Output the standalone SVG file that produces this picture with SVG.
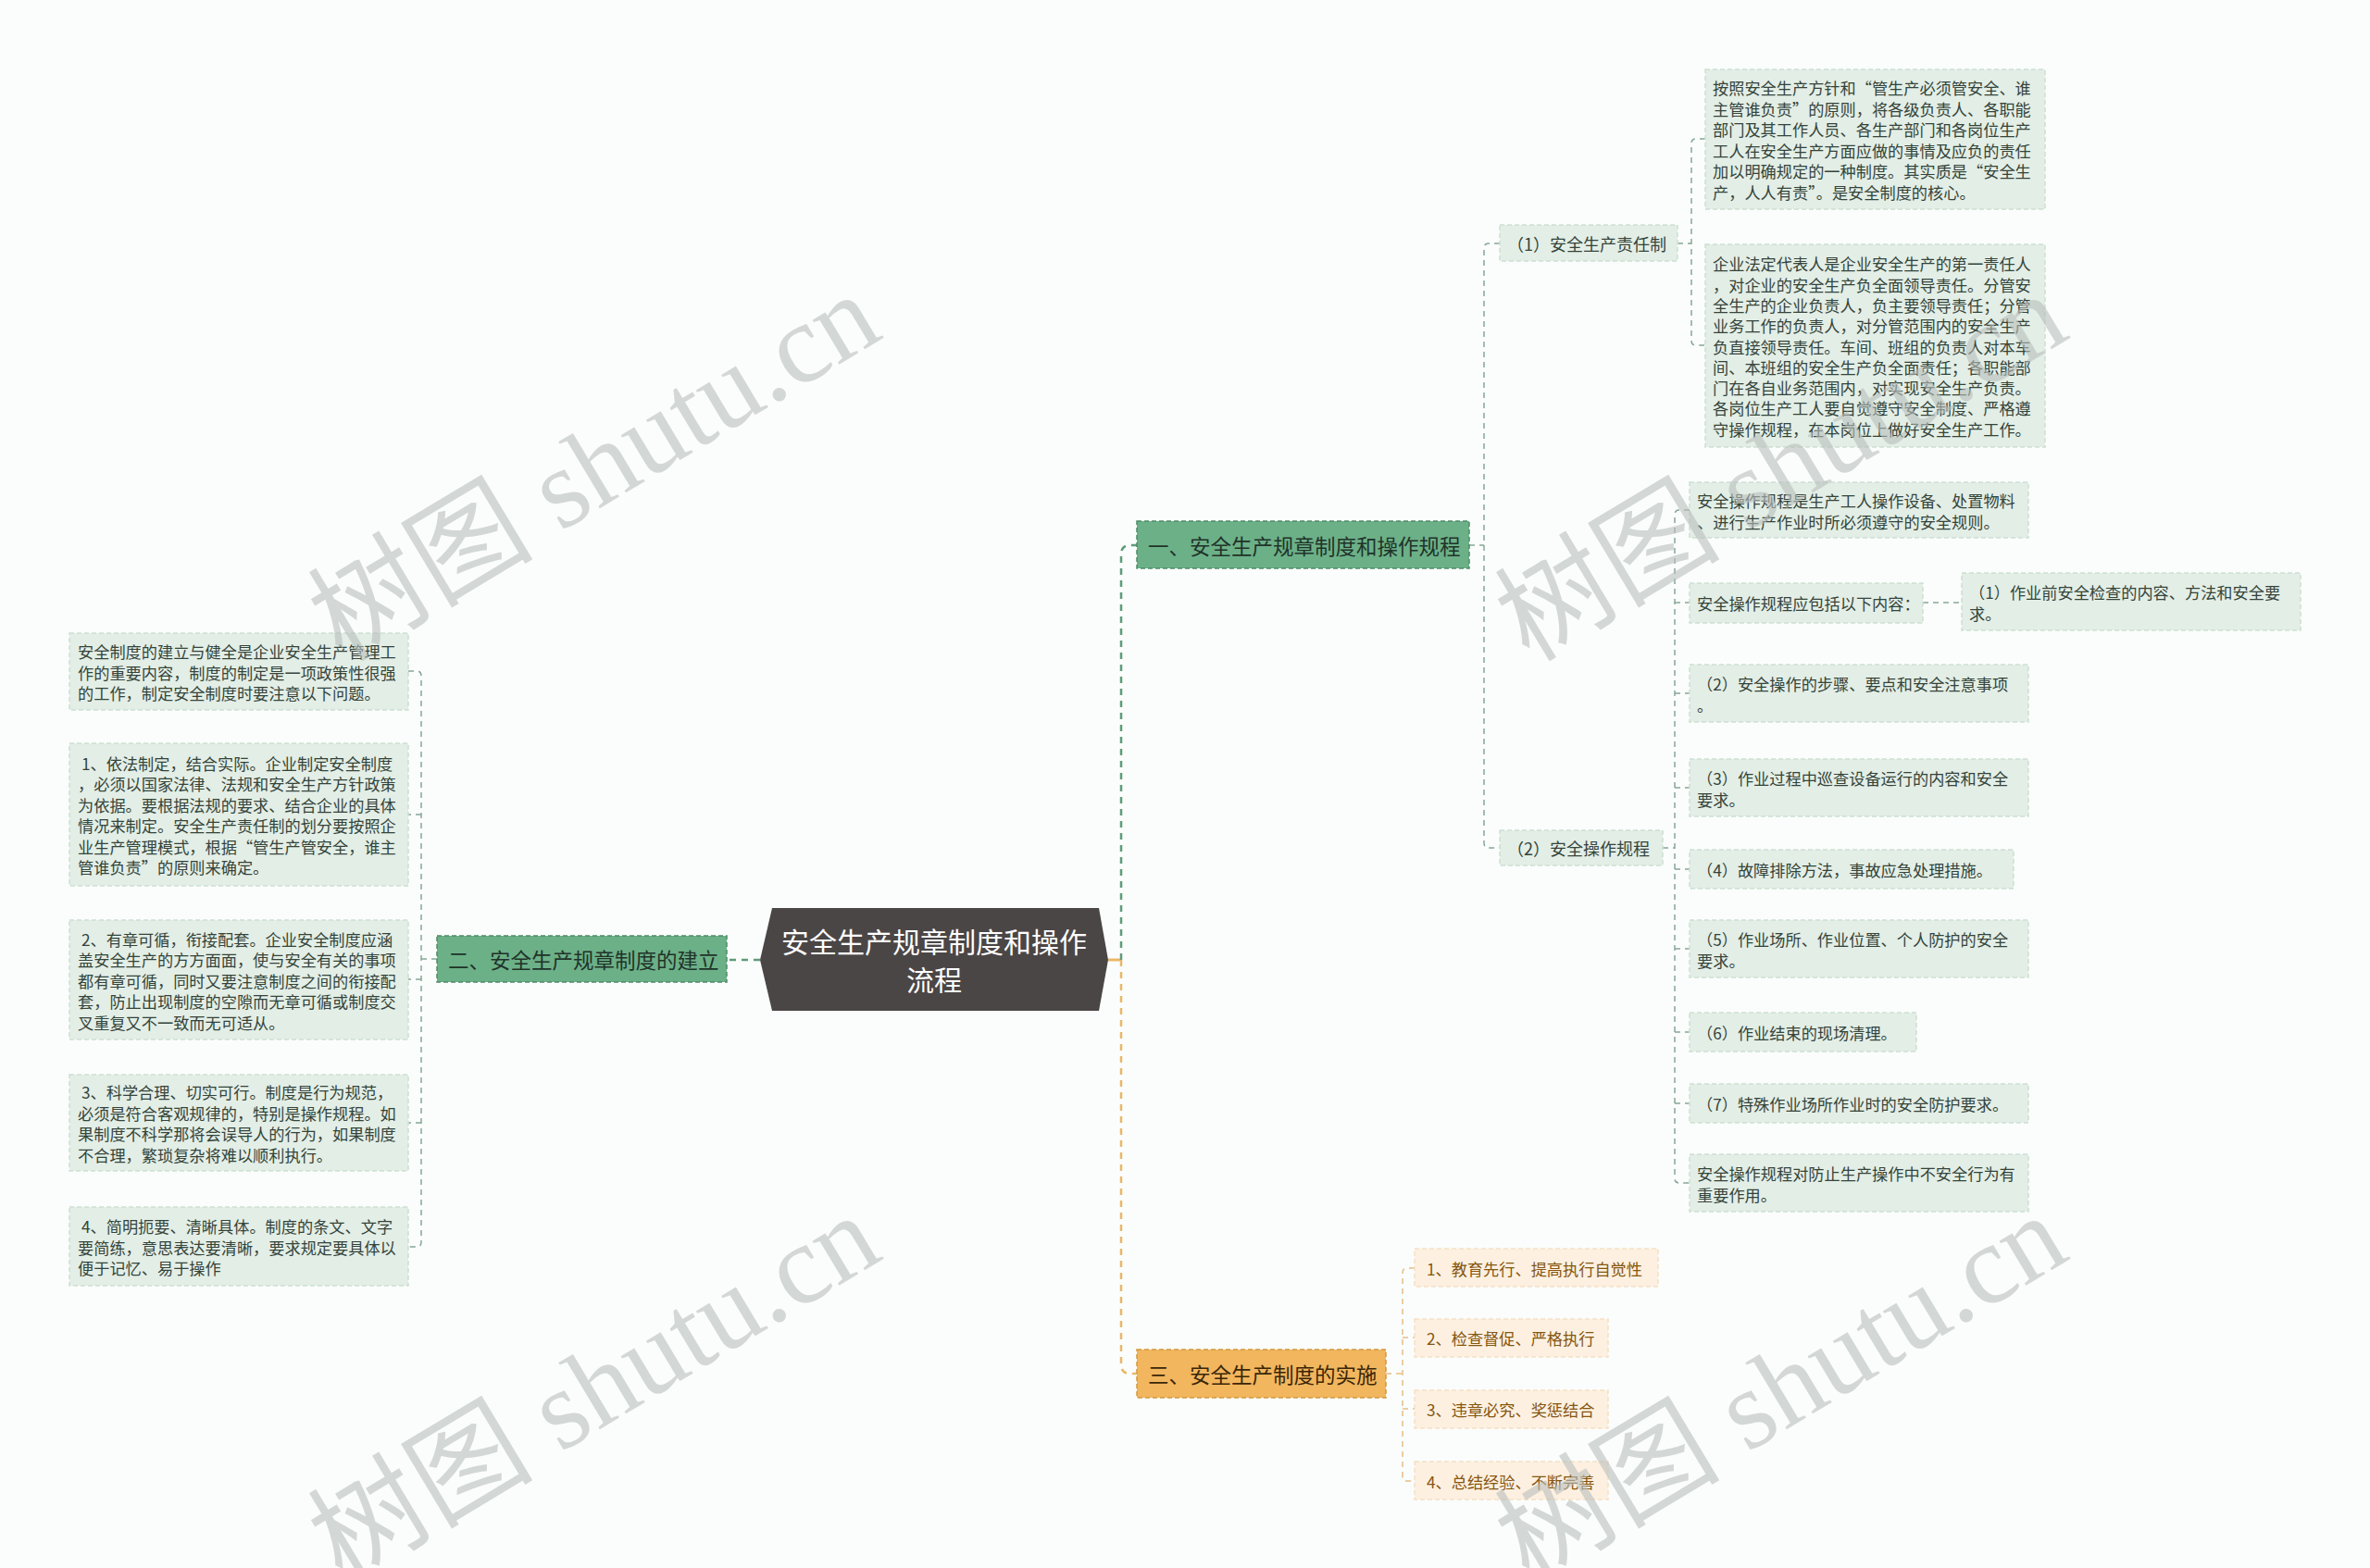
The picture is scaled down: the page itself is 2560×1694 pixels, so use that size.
<svg xmlns="http://www.w3.org/2000/svg" width="2560" height="1694" viewBox="0 0 2560 1694">
<style>
.bg{fill:#fbfdfc}
.leaf{fill:#e3eee6;stroke:#cddfd2;stroke-width:1.5;stroke-dasharray:5 3}
.leafo{fill:#fdf0e1;stroke:#f5dfc4;stroke-width:1.5;stroke-dasharray:5 3}
.brg{fill:#6cb088;stroke:#4d8b67;stroke-width:1.5;stroke-dasharray:5 3}
.bro{fill:#f1b65e;stroke:#d4983c;stroke-width:1.5;stroke-dasharray:5 3}
.ctr{fill:#4b4646}
text{font-family:"Noto Sans CJK SC","Noto Sans",sans-serif;dominant-baseline:central}
.t{font-size:17.2px;fill:#34443a}
.ts{font-size:18px;fill:#34443a}
.to{font-size:17.2px;fill:#85560f}
.tb{font-size:22.5px;fill:#1f3328}
.tbo{font-size:22.5px;fill:#3a2608}
.tc{font-size:30px;fill:#ffffff}
.cg{fill:none;stroke:#5f9c7a;stroke-width:2.5;stroke-dasharray:7 6}
.co{fill:none;stroke:#e8b868;stroke-width:2.5;stroke-dasharray:7 6}
.cl{fill:none;stroke:#86a795;stroke-width:1.5;stroke-dasharray:6 5}
.clo{fill:none;stroke:#e6bd84;stroke-width:1.5;stroke-dasharray:6 5}
.wm{font-family:"Liberation Serif","Noto Sans CJK SC",serif;font-size:122px;fill:#b9bfbc;opacity:0.6;dominant-baseline:auto}
</style>
<rect class="bg" x="0" y="0" width="2560" height="1694"/>

<g id="connectors">
  <path d="M1197,1037 H1211" fill="none" stroke="#e8b868" stroke-width="3"/>
  <path class="cg" d="M1211,1037 V599 Q1211,589 1221,589 H1228"/>
  <path class="co" d="M1211,1037 V1474 Q1211,1484 1221,1484 H1228"/>
  <path class="cg" d="M821,1037 H785" stroke-dasharray="14 5"/>
  <path class="cl" d="M472,1036 H455 M441,725 H450 Q455,725 455,730 V1342 Q455,1347 450,1347 H441 M455,880 H441 M455,1058 H441 M455,1213 H441"/>
  <path class="cl" d="M1587,589 H1603 M1620,263 H1608 Q1603,263 1603,268 V911 Q1603,916 1608,916 H1620"/>
  <path class="cl" d="M1812,263 H1827 M1842,150 H1832 Q1827,150 1827,155 V368 Q1827,373 1832,373 H1842"/>
  <path class="cl" d="M1796,916 H1809 M1825,551 H1814 Q1809,551 1809,556 V1273 Q1809,1278 1814,1278 H1825 M1809,651 H1825 M1809,749 H1825 M1809,851 H1825 M1809,939 H1825 M1809,1025 H1825 M1809,1115 H1825 M1809,1192 H1825"/>
  <path class="cl" d="M2077,651 H2119"/>
  <path class="clo" d="M1497,1484 H1515 M1528,1370 H1520 Q1515,1370 1515,1375 V1595 Q1515,1600 1520,1600 H1528 M1515,1445 H1528 M1515,1522 H1528"/>
</g>

<g id="root">
  <polygon class="ctr" points="821,1037 834,981 1187,981 1197,1037 1187,1092 834,1092"/>
  <text class="tc" x="1009" y="1016" text-anchor="middle">安全生产规章制度和操作</text>
  <text class="tc" x="1009" y="1057" text-anchor="middle">流程</text>
</g>

<g id="branch1">
  <rect class="brg" x="1228" y="563" width="359" height="51"/>
  <text class="tb" x="1240" y="589">一、安全生产规章制度和操作规程</text>
</g>
<g id="branch2">
  <rect class="brg" x="472" y="1011" width="313" height="50"/>
  <text class="tb" x="484" y="1036">二、安全生产规章制度的建立</text>
</g>
<g id="branch3">
  <rect class="bro" x="1228" y="1458" width="269" height="52"/>
  <text class="tbo" x="1240" y="1484">三、安全生产制度的实施</text>
</g>

<g id="sub1">
  <rect class="leaf" x="1620" y="243" width="192" height="39"/>
  <text class="ts" x="1628" y="263">（1）安全生产责任制</text>
</g>
<g id="sub2">
  <rect class="leaf" x="1620" y="897" width="176" height="38"/>
  <text class="ts" x="1628" y="916">（2）安全操作规程</text>
</g>

<g id="rb1">
  <rect class="leaf" x="1842" y="75" width="367" height="151"/>
  <text class="t"><tspan x="1850" y="94">按照安全生产方针和“管生产必须管安全、谁</tspan><tspan x="1850" y="116.6">主管谁负责”的原则，将各级负责人、各职能</tspan><tspan x="1850" y="139.2">部门及其工作人员、各生产部门和各岗位生产</tspan><tspan x="1850" y="161.8">工人在安全生产方面应做的事情及应负的责任</tspan><tspan x="1850" y="184.4">加以明确规定的一种制度。其实质是“安全生</tspan><tspan x="1850" y="207">产，人人有责”。是安全制度的核心。</tspan></text>
</g>
<g id="rb2">
  <rect class="leaf" x="1842" y="264" width="367" height="219"/>
  <text class="t"><tspan x="1850" y="284.3">企业法定代表人是企业安全生产的第一责任人</tspan><tspan x="1850" y="306.6">，对企业的安全生产负全面领导责任。分管安</tspan><tspan x="1850" y="328.9">全生产的企业负责人，负主要领导责任；分管</tspan><tspan x="1850" y="351.2">业务工作的负责人，对分管范围内的安全生产</tspan><tspan x="1850" y="373.5">负直接领导责任。车间、班组的负责人对本车</tspan><tspan x="1850" y="395.8">间、本班组的安全生产负全面责任；各职能部</tspan><tspan x="1850" y="418.1">门在各自业务范围内，对实现安全生产负责。</tspan><tspan x="1850" y="440.4">各岗位生产工人要自觉遵守安全制度、严格遵</tspan><tspan x="1850" y="462.7">守操作规程，在本岗位上做好安全生产工作。</tspan></text>
</g>

<g id="op1">
  <rect class="leaf" x="1825" y="521" width="366" height="60"/>
  <text class="t"><tspan x="1833" y="540">安全操作规程是生产工人操作设备、处置物料</tspan><tspan x="1833" y="562.5">、进行生产作业时所必须遵守的安全规则。</tspan></text>
</g>
<g id="op2">
  <rect class="leaf" x="1825" y="630" width="252" height="43"/>
  <text class="t" x="1833" y="651">安全操作规程应包括以下内容：</text>
</g>
<g id="op2a">
  <rect class="leaf" x="2119" y="619" width="366" height="62"/>
  <text class="t"><tspan x="2127" y="639">（1）作业前安全检查的内容、方法和安全要</tspan><tspan x="2127" y="661.5">求。</tspan></text>
</g>
<g id="op3">
  <rect class="leaf" x="1825" y="718" width="366" height="62"/>
  <text class="t"><tspan x="1833" y="738">（2）安全操作的步骤、要点和安全注意事项</tspan><tspan x="1833" y="760.5">。</tspan></text>
</g>
<g id="op4">
  <rect class="leaf" x="1825" y="820" width="366" height="62"/>
  <text class="t"><tspan x="1833" y="840">（3）作业过程中巡查设备运行的内容和安全</tspan><tspan x="1833" y="862.5">要求。</tspan></text>
</g>
<g id="op5">
  <rect class="leaf" x="1825" y="918" width="350" height="42"/>
  <text class="t" x="1833" y="939">（4）故障排除方法，事故应急处理措施。</text>
</g>
<g id="op6">
  <rect class="leaf" x="1825" y="994" width="366" height="62"/>
  <text class="t"><tspan x="1833" y="1014">（5）作业场所、作业位置、个人防护的安全</tspan><tspan x="1833" y="1036.5">要求。</tspan></text>
</g>
<g id="op7">
  <rect class="leaf" x="1825" y="1094" width="245" height="42"/>
  <text class="t" x="1833" y="1115">（6）作业结束的现场清理。</text>
</g>
<g id="op8">
  <rect class="leaf" x="1825" y="1171" width="366" height="42"/>
  <text class="t" x="1833" y="1192">（7）特殊作业场所作业时的安全防护要求。</text>
</g>
<g id="op9">
  <rect class="leaf" x="1825" y="1247" width="366" height="62"/>
  <text class="t"><tspan x="1833" y="1267">安全操作规程对防止生产操作中不安全行为有</tspan><tspan x="1833" y="1289.5">重要作用。</tspan></text>
</g>

<g id="im1">
  <rect class="leafo" x="1528" y="1349" width="263" height="41"/>
  <text class="to" x="1541" y="1370">1、教育先行、提高执行自觉性</text>
</g>
<g id="im2">
  <rect class="leafo" x="1528" y="1425" width="209" height="41"/>
  <text class="to" x="1541" y="1445">2、检查督促、严格执行</text>
</g>
<g id="im3">
  <rect class="leafo" x="1528" y="1502" width="209" height="41"/>
  <text class="to" x="1541" y="1522">3、违章必究、奖惩结合</text>
</g>
<g id="im4">
  <rect class="leafo" x="1528" y="1579" width="209" height="41"/>
  <text class="to" x="1541" y="1600">4、总结经验、不断完善</text>
</g>

<g id="lb0">
  <rect class="leaf" x="75" y="684" width="366" height="83"/>
  <text class="t"><tspan x="84" y="703">安全制度的建立与健全是企业安全生产管理工</tspan><tspan x="84" y="725.5">作的重要内容，制度的制定是一项政策性很强</tspan><tspan x="84" y="748">的工作，制定安全制度时要注意以下问题。</tspan></text>
</g>
<g id="lb1">
  <rect class="leaf" x="75" y="803" width="366" height="154"/>
  <text class="t"><tspan x="88" y="823.8">1、依法制定，结合实际。企业制定安全制度</tspan><tspan x="84" y="846.3">，必须以国家法律、法规和安全生产方针政策</tspan><tspan x="84" y="868.8">为依据。要根据法规的要求、结合企业的具体</tspan><tspan x="84" y="891.3">情况来制定。安全生产责任制的划分要按照企</tspan><tspan x="84" y="913.8">业生产管理模式，根据“管生产管安全，谁主</tspan><tspan x="84" y="936.3">管谁负责”的原则来确定。</tspan></text>
</g>
<g id="lb2">
  <rect class="leaf" x="75" y="994" width="366" height="129"/>
  <text class="t"><tspan x="88" y="1013.5">2、有章可循，衔接配套。企业安全制度应涵</tspan><tspan x="84" y="1036">盖安全生产的方方面面，使与安全有关的事项</tspan><tspan x="84" y="1058.5">都有章可循，同时又要注意制度之间的衔接配</tspan><tspan x="84" y="1081">套，防止出现制度的空隙而无章可循或制度交</tspan><tspan x="84" y="1103.5">叉重复又不一致而无可适从。</tspan></text>
</g>
<g id="lb3">
  <rect class="leaf" x="75" y="1161" width="366" height="104"/>
  <text class="t"><tspan x="88" y="1179.3">3、科学合理、切实可行。制度是行为规范，</tspan><tspan x="84" y="1201.8">必须是符合客观规律的，特别是操作规程。如</tspan><tspan x="84" y="1224.3">果制度不科学那将会误导人的行为，如果制度</tspan><tspan x="84" y="1246.8">不合理，繁琐复杂将难以顺利执行。</tspan></text>
</g>
<g id="lb4">
  <rect class="leaf" x="75" y="1304" width="366" height="85"/>
  <text class="t"><tspan x="88" y="1324">4、简明扼要、清晰具体。制度的条文、文字</tspan><tspan x="84" y="1346.5">要简练，意思表达要清晰，要求规定要具体以</tspan><tspan x="84" y="1369">便于记忆、易于操作</tspan></text>
</g>

<g id="watermarks">
  <text class="wm" x="645" y="545" text-anchor="middle" transform="rotate(-31 645 510)">树图 shutu.cn</text>
  <text class="wm" x="645" y="1540" text-anchor="middle" transform="rotate(-31 645 1505)">树图 shutu.cn</text>
  <text class="wm" x="1927" y="545" text-anchor="middle" transform="rotate(-31 1927 510)">树图 shutu.cn</text>
  <text class="wm" x="1927" y="1540" text-anchor="middle" transform="rotate(-31 1927 1505)">树图 shutu.cn</text>
</g>
</svg>
